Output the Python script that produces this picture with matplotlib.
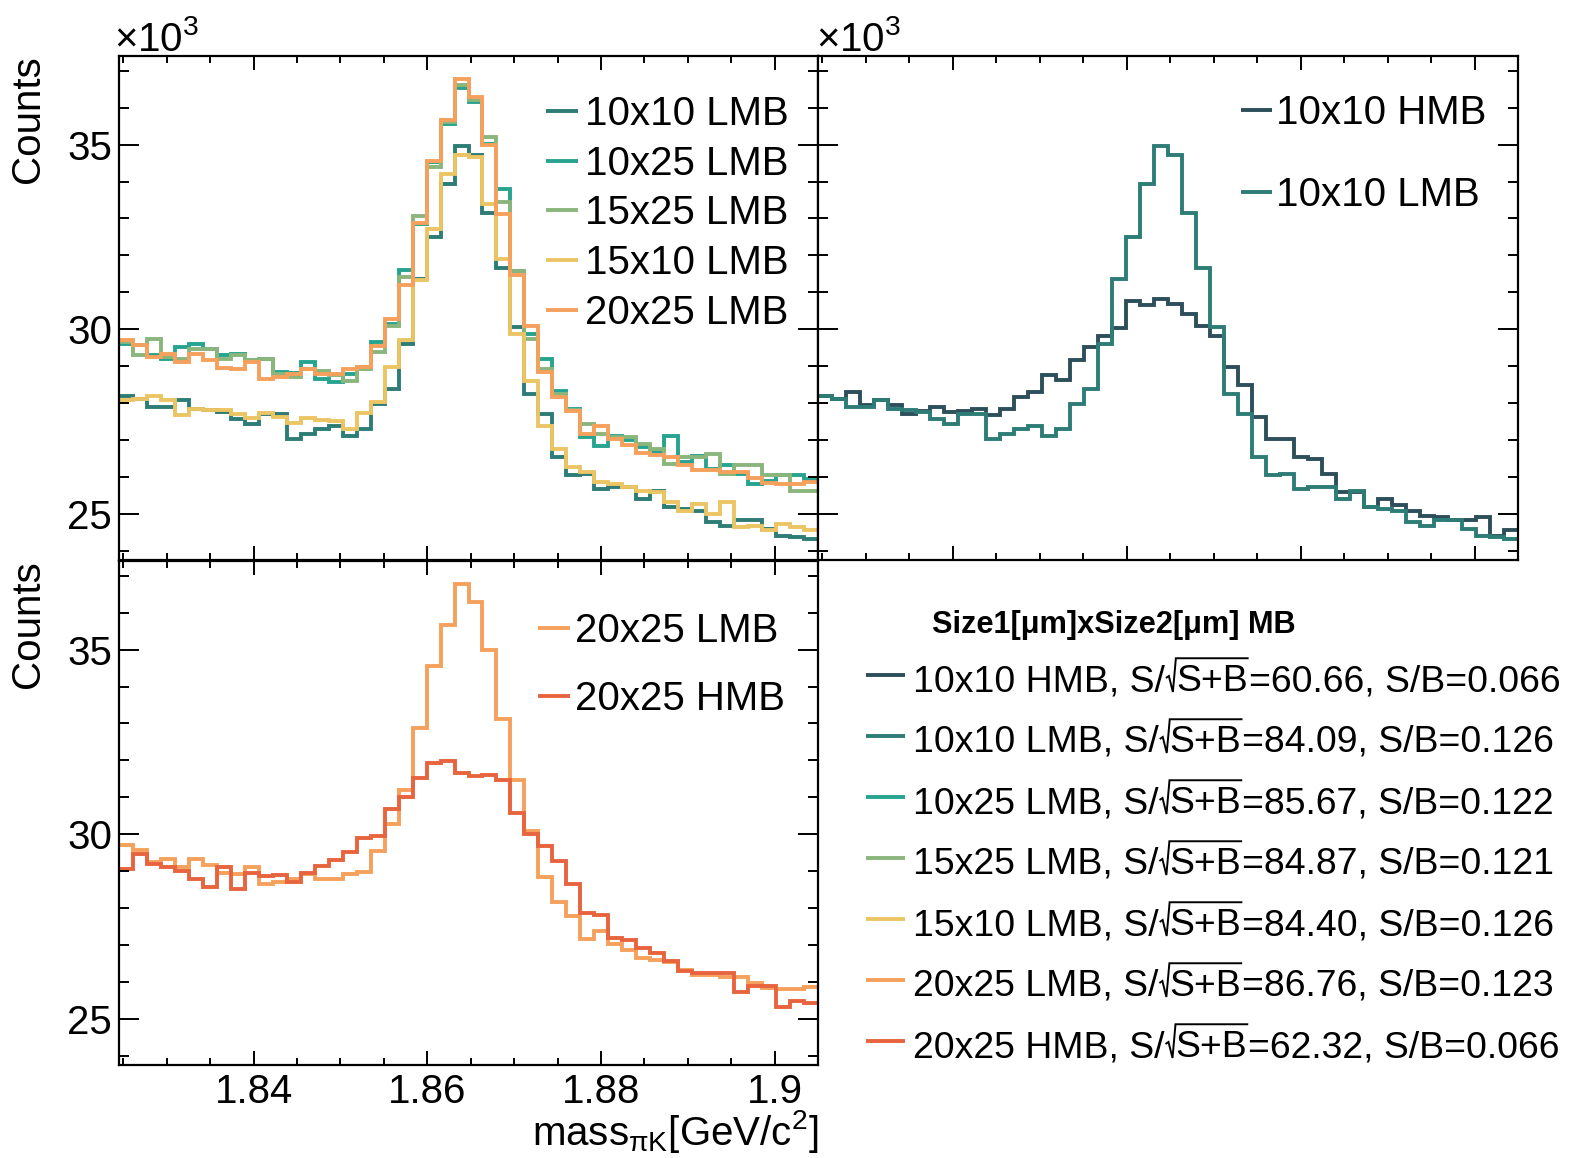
import numpy as np
import matplotlib
matplotlib.use("Agg")
import matplotlib.pyplot as plt
from matplotlib.lines import Line2D
from matplotlib.ticker import MultipleLocator, FuncFormatter
from matplotlib.font_manager import FontProperties
from matplotlib import font_manager as fm

# ---- binning (invariant mass, GeV/c^2) ----
mass_lo, mass_hi, n_bins = 1.8245, 1.905, 50

# ---- bin contents in units of 10^3 counts ----
hmb_10x10 = [28.20, 28.12, 28.30, 27.94, 28.09, 27.94, 27.71, 27.78, 27.89, 27.76,
             27.78, 27.85, 27.67, 27.85, 28.16, 28.30, 28.75, 28.63, 29.16, 29.53,
             29.81, 30.04, 30.76, 30.65, 30.83, 30.67, 30.42, 30.08, 29.83, 28.97,
             28.48, 27.62, 27.03, 27.03, 26.54, 26.49, 26.08, 25.59, 25.59, 25.18,
             25.41, 25.23, 25.09, 24.95, 24.91, 24.82, 24.82, 24.91, 24.41, 24.55]
lmb_10x10 = [28.18, 28.12, 27.89, 27.89, 28.07, 27.85, 27.80, 27.76, 27.57, 27.44,
             27.71, 27.71, 27.03, 27.17, 27.30, 27.39, 27.12, 27.30, 27.98, 28.39,
             29.61, 31.37, 32.50, 33.94, 34.95, 34.71, 33.15, 31.66, 30.06, 28.25,
             27.71, 26.54, 26.04, 26.08, 25.68, 25.72, 25.72, 25.41, 25.63, 25.18,
             25.14, 25.09, 24.77, 24.68, 24.82, 24.82, 24.59, 24.41, 24.37, 24.32]
lmb_10x25 = [29.59, 29.56, 29.29, 29.20, 29.52, 29.61, 29.47, 29.29, 29.34, 29.16,
             29.20, 28.84, 28.82, 29.11, 28.66, 28.57, 28.79, 28.97, 29.65, 30.15,
             31.60, 32.86, 34.53, 35.57, 36.52, 36.16, 35.03, 33.81, 31.59, 29.88,
             29.20, 28.34, 27.85, 27.08, 26.85, 27.12, 26.99, 26.81, 26.67, 27.12,
             26.40, 26.58, 26.22, 26.31, 26.08, 25.81, 25.90, 26.05, 26.05, 25.95]
lmb_15x25 = [29.65, 29.29, 29.74, 29.25, 29.20, 29.47, 29.47, 29.20, 29.29, 29.16,
             29.20, 28.79, 28.70, 28.93, 28.88, 28.75, 28.61, 28.93, 29.38, 30.10,
             31.41, 33.08, 34.39, 35.61, 36.61, 36.20, 35.21, 33.45, 31.59, 29.74,
             28.93, 28.25, 27.80, 27.44, 27.17, 27.08, 27.08, 26.90, 26.76, 26.35,
             26.54, 26.54, 26.63, 26.08, 26.31, 26.31, 26.04, 26.04, 25.63, 25.63]
lmb_15x10 = [28.07, 28.12, 28.18, 28.07, 27.67, 27.85, 27.80, 27.80, 27.71, 27.60,
             27.73, 27.62, 27.46, 27.60, 27.55, 27.51, 27.30, 27.73, 28.03, 28.97,
             29.70, 31.34, 32.72, 34.21, 34.71, 34.66, 33.40, 31.91, 29.88, 28.61,
             27.39, 26.76, 26.26, 26.13, 25.86, 25.81, 25.72, 25.63, 25.59, 25.32,
             25.09, 25.27, 25.00, 25.32, 24.64, 24.68, 24.55, 24.73, 24.64, 24.55]
lmb_20x25 = [29.70, 29.58, 29.25, 29.32, 29.10, 29.34, 29.18, 28.96, 28.92, 29.12,
             28.66, 28.71, 28.78, 28.92, 28.80, 28.79, 28.92, 28.97, 29.55, 30.27,
             31.19, 32.88, 34.55, 35.67, 36.77, 36.30, 35.00, 33.12, 31.46, 30.10,
             28.85, 28.17, 27.78, 27.15, 27.38, 27.03, 26.86, 26.66, 26.59, 26.55,
             26.33, 26.20, 26.18, 26.13, 26.14, 25.96, 25.83, 25.81, 25.80, 25.87]
hmb_20x25 = [29.05, 29.46, 29.19, 29.10, 29.01, 28.78, 28.57, 29.10, 28.51, 28.96,
             28.87, 28.90, 28.71, 28.96, 29.14, 29.29, 29.52, 29.91, 29.95, 30.68,
             31.01, 31.52, 31.92, 31.99, 31.67, 31.58, 31.61, 31.46, 30.57, 30.00,
             29.69, 29.27, 28.65, 27.86, 27.81, 27.19, 27.14, 26.93, 26.77, 26.56,
             26.30, 26.25, 26.25, 26.25, 25.73, 25.89, 25.89, 25.31, 25.47, 25.44]

# ---- summary legend: name, S/sqrt(S+B), S/B ----
summary_names = ["10x10 HMB", "10x10 LMB", "10x25 LMB", "15x25 LMB",
                 "15x10 LMB", "20x25 LMB", "20x25 HMB"]
summary_signif = ["60.66", "84.09", "85.67", "84.87", "84.40", "86.76", "62.32"]
summary_sb = ["0.066", "0.126", "0.122", "0.121", "0.126", "0.123", "0.066"]

colors = {
    "10x10 HMB": "#2d4f5b",
    "10x10 LMB": "#2d7c76",
    "10x25 LMB": "#27a48f",
    "15x25 LMB": "#8ab57c",
    "15x10 LMB": "#ebc463",
    "20x25 LMB": "#f5a05c",
    "20x25 HMB": "#e8643f",
}
series = {
    "10x10 HMB": hmb_10x10, "10x10 LMB": lmb_10x10, "10x25 LMB": lmb_10x25,
    "15x25 LMB": lmb_15x25, "15x10 LMB": lmb_15x10, "20x25 LMB": lmb_20x25,
    "20x25 HMB": hmb_20x25,
}

names = {f.name for f in fm.fontManager.ttflist}
BASE = "Liberation Sans" if "Liberation Sans" in names else "DejaVu Sans"
NARROW = "Liberation Sans Narrow" if "Liberation Sans Narrow" in names else BASE
narrow_scale = 1.0 if NARROW == "Liberation Sans Narrow" else 0.82

plt.rcParams["font.family"] = [BASE, "DejaVu Sans"]

W, H = 1572, 1158
DPI = 100
fig = plt.figure(figsize=(W / DPI, H / DPI), dpi=DPI)
fig.patch.set_facecolor("white")


def frac_box(l, t, r, b):
    return [l / W, 1 - b / H, (r - l) / W, (b - t) / H]


edges = np.linspace(mass_lo, mass_hi, n_bins + 1)
LW = 2.8
TICK_FS = 29


def style_axes(ax, xlabels=False, ylabels=True):
    ax.set_xlim(mass_lo, mass_hi)
    ax.set_ylim(23.75, 37.4)
    for s in ax.spines.values():
        s.set_linewidth(1.6)
    ax.xaxis.set_major_locator(MultipleLocator(0.02))
    ax.xaxis.set_minor_locator(MultipleLocator(0.005))
    ax.yaxis.set_major_locator(MultipleLocator(5))
    ax.yaxis.set_minor_locator(MultipleLocator(1))
    ax.tick_params(axis="both", which="both", direction="in", top=True, right=True,
                   width=1.4, labelsize=TICK_FS)
    ax.tick_params(axis="x", which="major", length=10, pad=6)
    ax.tick_params(axis="x", which="minor", length=5)
    ax.tick_params(axis="y", which="major", length=14.5, pad=5)
    ax.tick_params(axis="y", which="minor", length=7.2)
    ax.xaxis.set_major_formatter(FuncFormatter(lambda v, p: f"{round(v, 4):g}"))
    ax.yaxis.set_major_formatter(FuncFormatter(lambda v, p: f"{v:g}"))
    if not xlabels:
        ax.tick_params(axis="x", labelbottom=False)
    if not ylabels:
        ax.tick_params(axis="y", labelleft=False)


def draw(ax, key):
    ax.stairs(series[key], edges, color=colors[key], lw=LW, baseline=None)


ax_tl = fig.add_axes(frac_box(119, 56, 818, 560))
ax_tr = fig.add_axes(frac_box(818, 56, 1518, 560))
ax_bl = fig.add_axes(frac_box(119, 561, 818, 1065))

for k in ["10x10 LMB", "10x25 LMB", "15x25 LMB", "15x10 LMB", "20x25 LMB"]:
    draw(ax_tl, k)
for k in ["10x10 HMB", "10x10 LMB"]:
    draw(ax_tr, k)
for k in ["20x25 LMB", "20x25 HMB"]:
    draw(ax_bl, k)

style_axes(ax_tl)
style_axes(ax_tr, ylabels=False)
style_axes(ax_bl, xlabels=True)


def fx(px):
    return px / W


def fy(py):
    return 1 - py / H


def fig_line(xs, ys, color, lw):
    fig.add_artist(Line2D([fx(v) for v in xs], [fy(v) for v in ys], color=color, lw=lw,
                          transform=fig.transFigure, solid_capstyle="butt",
                          solid_joinstyle="miter"))


def legend_row(x0, x1, xt, yc, key, label, fs, family, cap=14):
    fig_line([x0, x1], [yc, yc], colors[key], LW)
    fig.text(fx(xt), fy(yc + cap), label, ha="left", va="baseline",
             fontsize=fs, family=family)


# in-panel legends
for i, k in enumerate(["10x10 LMB", "10x25 LMB", "15x25 LMB", "15x10 LMB", "20x25 LMB"]):
    legend_row(546, 578, 585, 111 + 49.7 * i, k, k, 29, BASE)
for i, k in enumerate(["10x10 HMB", "10x10 LMB"]):
    legend_row(1241, 1272, 1276, 110 + 82 * i, k, k, 29, BASE)
for i, k in enumerate(["20x25 LMB", "20x25 HMB"]):
    legend_row(538, 570, 575, 628 + 68 * i, k, k, 29, BASE)

# summary legend: header, then rows whose S/sqrt(S+B) gets a drawn radical
fig.text(fx(932), fy(633), "Size1[μm]xSize2[μm] MB", ha="left", va="baseline",
         fontsize=27 * narrow_scale, family=[NARROW, "DejaVu Sans"], weight="bold")

renderer = fig.canvas.get_renderer()
ROW_FS = 32.8 * narrow_scale
row_prop = FontProperties(family=[NARROW, "DejaVu Sans"], size=ROW_FS)
CAP_PX = 0.716 * ROW_FS * DPI / 72.0


def text_width_px(s):
    w, _, _ = renderer.get_text_width_height_descent(s, row_prop, ismath=False)
    return w


def put(x, base, s):
    fig.text(fx(x), fy(base), s, ha="left", va="baseline", fontproperties=row_prop)


X_TEXT = 913
for i, (nm, sg, sb) in enumerate(zip(summary_names, summary_signif, summary_sb)):
    yc = 675 + 61 * i
    base = yc + 16
    fig_line([866, 905], [yc, yc], colors[nm], LW)
    pre = nm + ", S/"
    put(X_TEXT, base, pre)
    xr = X_TEXT + text_width_px(pre) + 1
    top = base - CAP_PX - 6
    # radical sign and bar over S+B
    inner = "S+B"
    x_in = xr + 10
    x_end = x_in + text_width_px(inner) + 1
    fig_line([xr, xr + 3, xr + 7, xr + 10, x_end],
             [base - 13, base - 15, base + 1, top, top], "black", 1.4)
    put(x_in, base, inner)
    put(x_end, base, "=" + sg + ", S/B=" + sb)

# axis titles
for ytop in (55, 560):
    fig.text(fx(28), fy(ytop), "Counts", rotation=90, ha="center", va="top", fontsize=29)
for xl in (114, 816):
    fig.text(fx(xl), fy(51), r"×10$^{\mathregular{3}}$", ha="left", va="baseline", fontsize=29)
fig.text(fx(818), fy(1145), r"mass$_{\mathregular{πK}}$[GeV/c$^{\mathregular{2}}$]",
         ha="right", va="baseline", fontsize=29)

fig.savefig("out.png", dpi=DPI, facecolor="white")
